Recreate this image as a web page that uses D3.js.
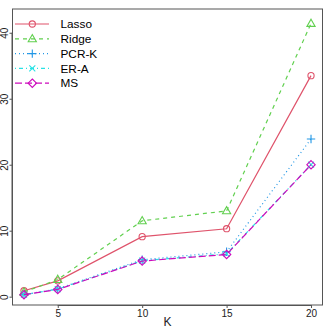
<!DOCTYPE html>
<html><head><meta charset="utf-8">
<script src="https://cdn.jsdelivr.net/npm/d3@7"></script>
<style>body{margin:0;background:#fff}svg{display:block}</style>
</head><body>
<script>
const K = [3, 5, 10, 15, 20];
const seriesNames = ["Lasso", "Ridge", "PCR-K", "ER-A", "MS"];
const lasso = [0.9, 2.4, 9.1, 10.3, 33.5];
const ridge = [0.7, 2.6, 11.5, 13.0, 41.4];
const pcrk = [0.3, 1.2, 5.6, 6.8, 23.9];
const era = [0.3, 1.15, 5.45, 6.5, 20.0];
const ms = [0.3, 1.1, 5.4, 6.4, 20.0];
const xTicks = [5, 10, 15, 20];
const yTicks = [0, 10, 20, 30, 40];
const colors = ["#DF536B", "#61D04F", "#2297E6", "#28E2E5", "#CD0BBC"];
const dashes = [null, "4,4", "1,3", "1,3,4,3", "7,3"];
const shapes = ["circle", "triangle", "plus", "cross", "diamond"];
const values = [lasso, ridge, pcrk, era, ms];

(function () {
const W = 332, H = 332;
const pLeft = 12.5, pRight = 322.5, pTop = 9, pBottom = 305;
const svg = d3.select("body").append("svg").attr("width", W).attr("height", H);
const x = d3.scaleLinear().domain([2.32, 20.68]).range([pLeft, pRight]);
const y = d3.scaleLinear().domain([-1.26, 43.6]).range([pBottom, pTop]);
const font = "'Liberation Sans', Arial, Helvetica, sans-serif";

function marker(g, shape, cx, cy, col) {
  const s = g.append("g").attr("transform", `translate(${cx},${cy})`)
    .attr("fill", "none").attr("stroke", col).attr("stroke-width", 1.1);
  if (shape === "circle") s.append("circle").attr("r", 3.1);
  else if (shape === "triangle") s.append("path").attr("d", "M0,-4.3L4.1,2.9L-4.1,2.9Z");
  else if (shape === "plus") s.append("path").attr("d", "M-4.2,0H4.2M0,-4.2V4.2");
  else if (shape === "cross") s.append("path").attr("d", "M-3,-3L3,3M-3,3L3,-3");
  else if (shape === "diamond") s.append("path").attr("d", "M0,-4.2L4.2,0L0,4.2L-4.2,0Z");
}

values.forEach((vals, i) => {
  const line = d3.line().x((d, j) => x(K[j])).y(d => y(d));
  svg.append("path").datum(vals).attr("d", line).attr("fill", "none")
    .attr("stroke", colors[i]).attr("stroke-width", 1.2)
    .attr("stroke-dasharray", dashes[i]);
  vals.forEach((v, j) => marker(svg, shapes[i], x(K[j]), y(v), colors[i]));
});

svg.append("rect").attr("x", pLeft).attr("y", pTop).attr("width", pRight - pLeft).attr("height", pBottom - pTop)
  .attr("fill", "none").attr("stroke", "#555").attr("stroke-width", 1);

const xa = svg.append("g").attr("transform", `translate(0,${pBottom})`)
  .call(d3.axisBottom(x).tickValues(xTicks).tickSize(3).tickSizeOuter(0).tickPadding(2));
xa.select(".domain").attr("d", `M${x(5)},0.5H${x(20)}`).attr("stroke", "#555");
xa.selectAll("line").attr("stroke", "#555");
xa.selectAll("text").attr("font-family", font).attr("font-size", 10).attr("fill", "#222");

const ya = svg.append("g").attr("transform", `translate(${pLeft},0)`)
  .call(d3.axisLeft(y).tickValues(yTicks).tickSize(3).tickSizeOuter(0));
ya.select(".domain").attr("d", `M-0.5,${y(0)}V${y(40)}`).attr("stroke", "#555");
ya.selectAll("line").attr("stroke", "#555");
ya.selectAll(".tick text").attr("font-family", font).attr("font-size", 10).attr("fill", "#222")
  .attr("x", 0).attr("y", 0).attr("dy", "0.36em")
  .attr("text-anchor", "middle")
  .attr("transform", "translate(-8,0) rotate(-90)");

svg.append("text").attr("x", (pLeft + pRight) / 2).attr("y", 326).attr("text-anchor", "middle")
  .attr("font-family", font).attr("font-size", 12).attr("fill", "#222").text("K");

const ly0 = 24, ldy = 14.8;
seriesNames.forEach((name, i) => {
  const yy = ly0 + i * ldy;
  svg.append("line").attr("x1", 15).attr("x2", 49).attr("y1", yy).attr("y2", yy)
    .attr("stroke", colors[i]).attr("stroke-width", 1.2).attr("stroke-dasharray", dashes[i]);
  marker(svg, shapes[i], 32.3, yy, colors[i]);
  svg.append("text").attr("x", 60.5).attr("y", yy).attr("dy", "0.36em")
    .attr("font-family", font).attr("font-size", 11.8).attr("fill", "#000").text(name);
});
})();
</script>
</body></html>
